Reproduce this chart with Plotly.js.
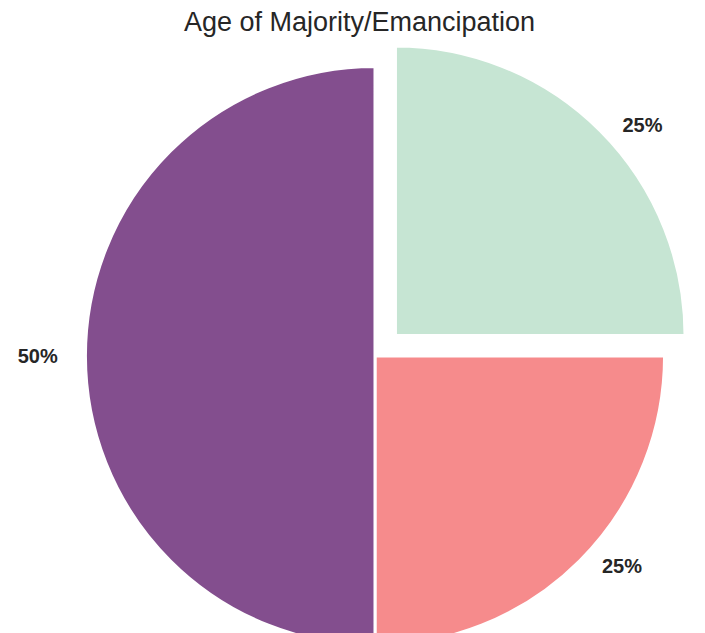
<!DOCTYPE html>
<html>
<head>
<meta charset="utf-8">
<script src="https://cdn.plot.ly/plotly-3.0.1.min.js"></script>
<style>html,body{margin:0;padding:0;overflow:hidden;background:#fff;}</style>
</head>
<body>
<div id="chart" style="width:705px;height:712px;"></div>
<script>
const categories = ["Category A", "Category B", "Category C"];
const values = [25, 25, 50];
const colors = ["#c6e5d3", "#f68b8c", "#834e8e"];
const pulls = [0.1, 0, 0];
const NB = "\u00a0";
const labelTemplates = [
  NB.repeat(3) + "%{percent:.0%}",
  NB.repeat(3) + "%{percent:.0%}",
  "%{percent:.0%}" + NB.repeat(4)
];

const trace = {
  type: "pie",
  labels: categories,
  values: values,
  sort: false,
  direction: "clockwise",
  rotation: 0,
  pull: pulls,
  marker: {colors: colors, line: {color: "#ffffff", width: 3}},
  textinfo: "percent",
  texttemplate: labelTemplates,
  textposition: "outside",
  outsidetextfont: {family: "Liberation Sans, Arial, sans-serif", size: 20, color: "#262626", weight: "bold"},
  domain: {x: [0.0801, 0.9837], y: [0, 1]},
  hoverinfo: "label+percent",
  showlegend: false
};

const layout = {
  width: 705,
  height: 712,
  margin: {l: 0, r: 0, t: 0, b: 0},
  paper_bgcolor: "#ffffff",
  title: {
    text: "Age of Majority/Emancipation",
    font: {family: "Liberation Sans, Arial, sans-serif", size: 27, color: "#262626"},
    x: 0.51, xanchor: "center",
    y: 0.97, yanchor: "middle", yref: "container"
  },
  showlegend: false
};

Plotly.newPlot("chart", [trace], layout, {displayModeBar: false, staticPlot: true});
</script>
</body>
</html>
